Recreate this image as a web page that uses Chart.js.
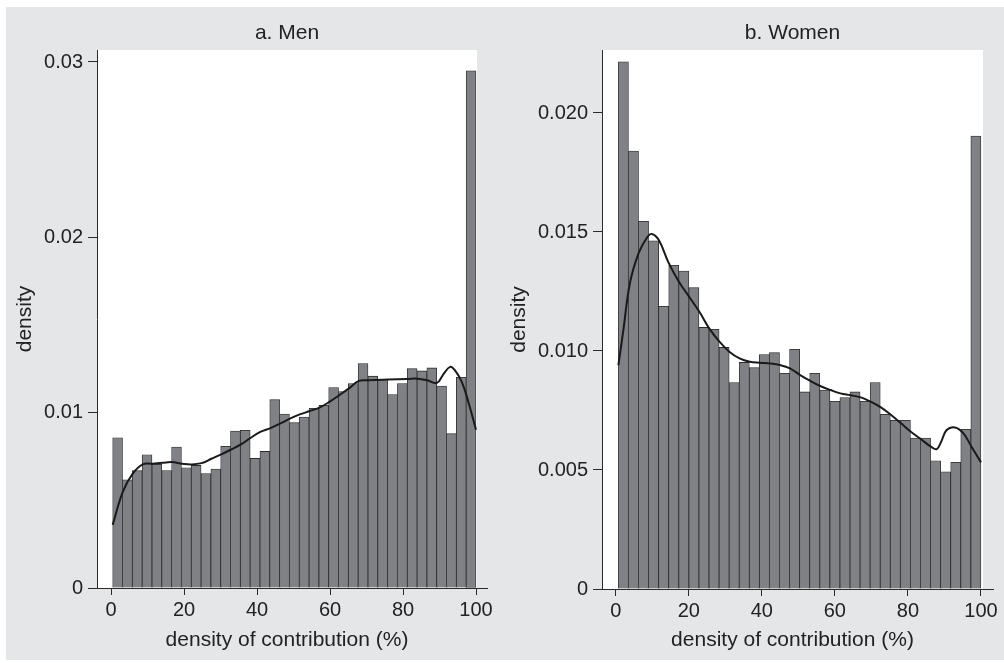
<!DOCTYPE html>
<html>
<head>
<meta charset="utf-8">
<script src="https://cdn.jsdelivr.net/npm/chart.js@4"></script>
<style>
  html, body { margin: 0; padding: 0; background: #fff; }
  #page { position: relative; width: 1004px; height: 663px; overflow: hidden; }
  #bg { position: absolute; left: 6px; top: 7px; width: 998px; height: 653px; background: #e5e6e8; }
  canvas { position: absolute; top: 0; }
  #men { left: 0; }
  #women { left: 500px; }
</style>
</head>
<body>
<div id="page">
  <div id="bg"></div>
  <canvas id="men" width="500" height="663"></canvas>
  <canvas id="women" width="504" height="663"></canvas>
</div>
<script>
// ---- data ----
// histogram bins (density of contribution, %)
const menBinStart = 0.46;
const menBinWidth = 2.69;
const menDensity = [
  0.00857, 0.00617, 0.00669, 0.0076, 0.00705, 0.0067, 0.00804, 0.00686, 0.00699, 0.00653,
  0.00678, 0.00808, 0.00895, 0.00899, 0.00739, 0.00779, 0.01074, 0.00992, 0.00943, 0.00975,
  0.01025, 0.01042, 0.01143, 0.0112, 0.01166, 0.0128, 0.01208, 0.01189, 0.01103, 0.01166,
  0.01251, 0.01238, 0.01255, 0.01152, 0.0088, 0.01202, 0.0295
];
const womenBinStart = 0.73;
const womenBinWidth = 2.757;
const womenDensity = [
  0.02215, 0.0184, 0.01545, 0.01463, 0.01188, 0.0136, 0.01336, 0.01266, 0.01099, 0.01091,
  0.01015, 0.00867, 0.00952, 0.0093, 0.00985, 0.00993, 0.00906, 0.01007, 0.00828, 0.00906,
  0.00836, 0.00789, 0.00804, 0.00828, 0.00789, 0.00867, 0.00734, 0.00709, 0.00709, 0.00634,
  0.00634, 0.00539, 0.00492, 0.00532, 0.00671, 0.01903
];

// kernel density curves
const menKdeX = [0.46, 3.2, 5.9, 8.7, 11.3, 14.1, 16.7, 19.5, 22.1, 24.8, 27.5, 30.2, 32.9, 35.6,
  38.3, 40.9, 43.7, 46.3, 49.0, 51.7, 54.3, 57.1, 59.8, 62.5, 65.1, 67.9, 70.5, 75.9, 81.2, 83.9,
  86.6, 89.3, 91.05, 92.9, 94.2, 96.1, 97.9, 100];
const menKdeY = [0.0036, 0.00547, 0.00651, 0.00705, 0.00709, 0.00714, 0.00718, 0.00709, 0.00705,
  0.00712, 0.00737, 0.00762, 0.0079, 0.00819, 0.00857, 0.0089, 0.00912, 0.00937, 0.00966, 0.0099,
  0.01008, 0.01029, 0.01061, 0.01099, 0.01137, 0.01181, 0.01185, 0.01189, 0.01192, 0.01194,
  0.01185, 0.0117, 0.01219, 0.01261, 0.01242, 0.01175, 0.01061, 0.00903];
const womenKdeX = [0.73, 2.1, 3.9, 6.3, 8.5, 9.85, 11.8, 14.5, 17.3, 20.1, 22.9, 25.6, 28.4, 31.1,
  33.9, 36.7, 39.5, 42.2, 45.0, 47.7, 50.5, 53.3, 56.0, 58.8, 61.5, 64.3, 67.1, 69.8, 72.6, 75.4,
  78.1, 80.8, 83.6, 86.3, 87.9, 89.1, 90.6, 92.9, 95.2, 97.4, 100];
const womenKdeY = [0.00941, 0.01088, 0.01286, 0.01412, 0.01475, 0.01492, 0.01466, 0.0137, 0.01291,
  0.01228, 0.01165, 0.01095, 0.01039, 0.00997, 0.00969, 0.00955, 0.00951, 0.00948, 0.00941,
  0.00927, 0.00899, 0.00874, 0.00853, 0.00836, 0.00822, 0.00814, 0.00805, 0.00787, 0.00763,
  0.00731, 0.00696, 0.00661, 0.00629, 0.00598, 0.00588, 0.00619, 0.00668, 0.00679, 0.00654,
  0.00598, 0.00532];

// axis ticks
const xTicks = [0, 20, 40, 60, 80, 100];
const menYTicks = [0, 0.01, 0.02, 0.03];
const menYLabels = ['0', '0.01', '0.02', '0.03'];
const womenYTicks = [0, 0.005, 0.01, 0.015, 0.02];
const womenYLabels = ['0', '0.005', '0.010', '0.015', '0.020'];

// ---- styling ----
const axisColor = '#2b2b2b';
const textColor = '#222';
Chart.defaults.font.family = '"Liberation Sans", Arial, Helvetica, sans-serif';
Chart.defaults.color = textColor;

// white plot region + x axis line running a little past the plot
const plotBackground = {
  id: 'plotBackground',
  beforeDraw(chart) {
    const { ctx, chartArea: a } = chart;
    ctx.save();
    ctx.fillStyle = '#fff';
    ctx.fillRect(a.left, a.top, a.right - a.left, a.bottom - a.top);
    ctx.restore();
  },
  afterDraw(chart) {
    const { ctx, chartArea: a } = chart;
    ctx.save();
    ctx.strokeStyle = axisColor;
    ctx.lineWidth = 1;
    ctx.beginPath();
    ctx.moveTo(a.right, Math.round(a.bottom) + 0.5);
    ctx.lineTo(a.right + 11, Math.round(a.bottom) + 0.5);
    ctx.stroke();
    ctx.restore();
  }
};

function makeHist(id, cfg) {
  const bars = cfg.density.map((v, i) => ({ x: cfg.binStart + (i + 0.5) * cfg.binWidth, y: v }));
  const curve = cfg.kdeX.map((x, i) => ({ x: x, y: cfg.kdeY[i] }));

  return new Chart(document.getElementById(id), {
    type: 'bar',
    data: {
      datasets: [
        {
          type: 'line',
          data: curve,
          borderColor: '#1a1a1a',
          borderWidth: 2,
          pointRadius: 0,
          tension: 0.4,
          fill: false,
          order: 0
        },
        {
          type: 'bar',
          data: bars,
          backgroundColor: '#808185',
          borderColor: '#2a2a2a',
          borderWidth: 0.8,
          barPercentage: 1,
          categoryPercentage: 1,
          order: 1
        }
      ]
    },
    options: {
      responsive: false,
      animation: false,
      layout: { padding: { left: 0, right: cfg.padRight, top: 0, bottom: 0 } },
      plugins: {
        legend: { display: false },
        tooltip: { enabled: false },
        title: {
          display: true,
          text: cfg.title,
          fullSize: false,
          font: { size: 21, weight: 'normal' },
          color: textColor,
          padding: { top: 20.8, bottom: 4 }
        }
      },
      scales: {
        x: {
          type: 'linear',
          min: cfg.xMin,
          max: cfg.xMax,
          offset: false,
          afterBuildTicks: (s) => { s.ticks = xTicks.map(v => ({ value: v })); },
          afterFit: (s) => { s.height = cfg.xHeight; s.paddingLeft = 0; s.paddingRight = 0; },
          ticks: { autoSkip: false, maxRotation: 0, padding: 3, font: { size: 20 }, color: textColor },
          grid: { display: true, offset: false, drawOnChartArea: false, drawTicks: true, tickLength: 7, color: axisColor },
          border: { display: true, color: axisColor, width: 1 },
          title: {
            display: true,
            text: 'density of contribution (%)',
            font: { size: 21 },
            color: textColor,
            padding: { top: 0, bottom: 10.4 }
          }
        },
        y: {
          type: 'linear',
          min: 0,
          max: cfg.yMax,
          afterBuildTicks: (s) => { s.ticks = cfg.yTicks.map(v => ({ value: v })); },
          afterFit: (s) => { s.width = cfg.yWidth; s.paddingTop = 0; s.paddingBottom = 0; },
          ticks: {
            autoSkip: false,
            padding: 5,
            font: { size: 20 },
            color: textColor,
            callback: (v, i) => cfg.yLabels[i]
          },
          grid: { display: true, drawOnChartArea: false, drawTicks: true, tickLength: 9, color: axisColor },
          border: { display: true, color: axisColor, width: 1 },
          title: {
            display: true,
            text: 'density',
            font: { size: 21 },
            color: textColor,
            padding: { top: cfg.yTitlePad, bottom: 0 }
          }
        }
      }
    },
    plugins: [plotBackground]
  });
}

makeHist('men', {
  title: 'a. Men',
  density: menDensity, binStart: menBinStart, binWidth: menBinWidth,
  kdeX: menKdeX, kdeY: menKdeY,
  yTicks: menYTicks, yLabels: menYLabels,
  xMin: -3.84, xMax: 100.27, yMax: 0.030684,
  yWidth: 97, xHeight: 75, padRight: 23, yTitlePad: 13
});

makeHist('women', {
  title: 'b. Women',
  density: womenDensity, binStart: womenBinStart, binWidth: womenBinWidth,
  kdeX: womenKdeX, kdeY: womenKdeY,
  yTicks: womenYTicks, yLabels: womenYLabels,
  xMin: -3.75, xMax: 100.55, yMax: 0.022647,
  yWidth: 102, xHeight: 74, padRight: 21, yTitlePad: 7
});
</script>
</body>
</html>
